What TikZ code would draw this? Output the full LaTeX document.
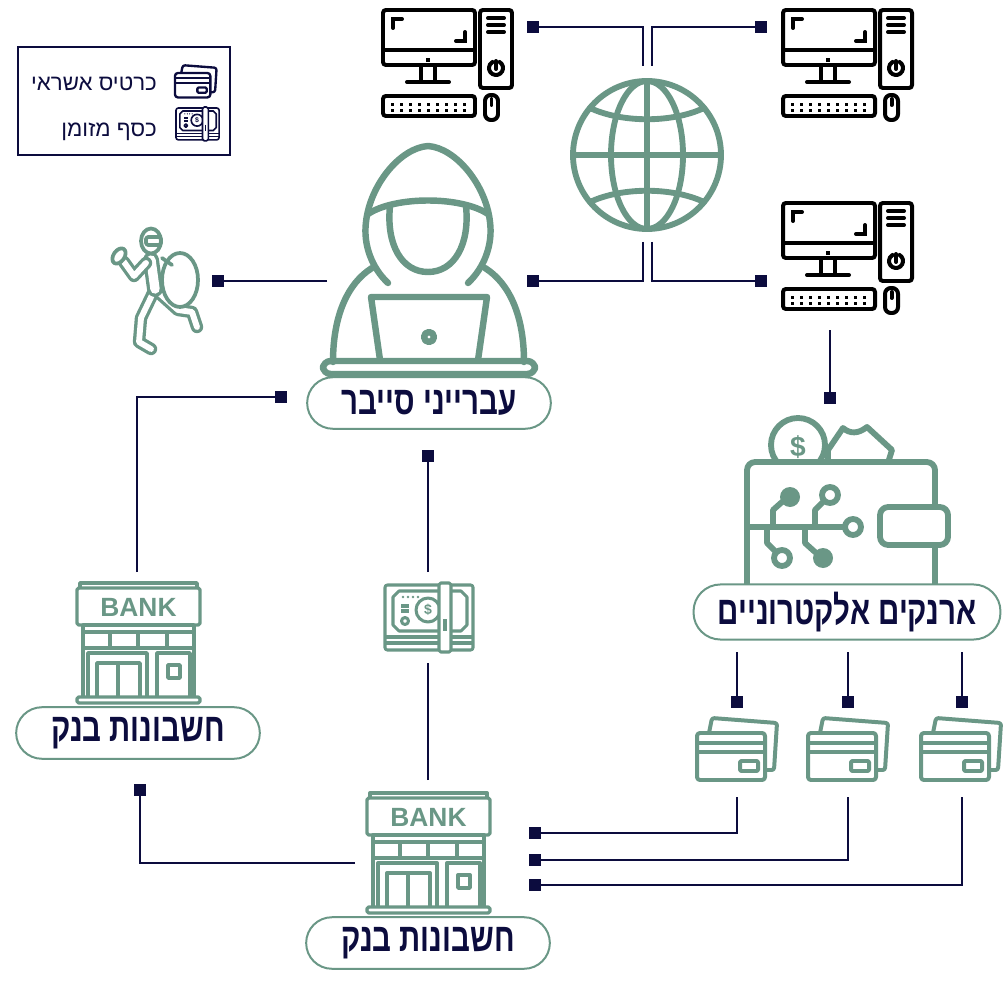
\documentclass[tikz,border=0pt]{standalone}
\usepackage{fontspec}
\usetikzlibrary{arrows.meta}
\newfontfamily\hebfont[Script=Hebrew]{Liberation Sans}
\newfontfamily\hebtag[Script=Hebrew, FakeStretch=0.74]{Liberation Sans}
\newfontfamily\latfont{Liberation Sans}
\TeXXeTstate=1
\definecolor{navy}{RGB}{12,12,62}
\definecolor{leaf}{RGB}{106,151,134}

\tikzset{
  icon/.style={line width=5pt, line cap=round, line join=round},
  limb/.style={draw=leaf, double=white, double distance=5pt, line width=2.8pt, line cap=round, line join=round},
  link/.style={draw=navy, line width=2.1pt, -{Square[length=10.5pt,width=10.5pt]}},
  tag/.style={draw=leaf, fill=white, line width=1.7pt, rounded corners=22pt,
    minimum width=208pt, minimum height=44pt, text=navy, inner sep=2pt,
    font=\hebtag\bfseries\fontsize{34}{36}\selectfont},
  % desktop pc, origin at top left of the screen
  computer/.pic={
    \draw[rounded corners=2.5pt] (0,0) rectangle (92,55);
    \draw (0,40) -- (92,40);
    \fill (43,48) rectangle (47,52);
    \draw (10,18) -- (10,9) -- (19,9);
    \draw (82,22) -- (82,31) -- (73,31);
    \draw (38,55) -- (38,72) (52,55) -- (52,72) (24,72) -- (66,72);
    \draw[rounded corners=2.5pt] (97,0) rectangle (129,78);
    \foreach \b in {8,15,22}
      \draw (105,\b) -- (121,\b);
    \draw (113,58) ++(-60:7) arc[start angle=-60, end angle=240, radius=7];
    \draw (113,51) -- (113,59);
    \draw[rounded corners=2.5pt] (0,86) rectangle (92,106);
    \foreach \i in {0,...,8}
      \foreach \j in {93,99}
        \fill (8+9*\i,\j) rectangle ++(3,3);
    \draw[rounded corners=5pt] (102,85) rectangle (115,110);
    \draw (108.5,89) -- (108.5,95);
  },
  % two stacked cards, origin at top left of the front card
  card/.pic={
    \draw[rounded corners=2pt] (12,0) -- (15,-15) -- (80,-10) -- (77,37) -- (68,37);
    \draw[rounded corners=2.5pt] (0,0) rectangle (68,47);
    \draw (0,10) -- (68,10) (0,19) -- (68,19);
    \draw[rounded corners=1pt] (43,28) rectangle (61,38);
  },
  % bundle of notes
  cash/.pic={
    \draw[rounded corners=2pt] (0,0) rectangle (88,65);
    \draw (0,52) -- (88,52) (0,58) -- (88,58);
    \draw (14,6) -- (76,6) -- (82,12) -- (82,40) -- (76,46) -- (14,46) -- (8,40) -- (8,12) -- cycle;
    \draw (43,25) circle (12);
    \node[transform shape, font=\latfont\bfseries\fontsize{12}{12}\selectfont] at (43,25) {\$};
    \draw (20,36) circle (3.5);
    \foreach \d in {18,23,28,33}
      \fill (\d,12) circle (1.3);
    \draw (16,21) -- (24,21) (16,26) -- (24,26);
    \draw[fill=white, rounded corners=1.5pt] (54,-2) rectangle (66,67);
    \draw (60,34) -- (60,46);
  },
  % bank front, origin at top left of the roof
  bank/.pic={
    \draw (3,5) -- (3,0) -- (120,0) -- (120,5);
    \draw[rounded corners=1.5pt] (0,5) rectangle (123,42);
    \node[transform shape, font=\latfont\bfseries\fontsize{22.5}{22.5}\selectfont] at (61.5,24) {BANK};
    \draw (6,42) rectangle (117,49);
    \draw (6,49) rectangle (117,65);
    \foreach \x in {33,61,90}
      \draw (\x,49) -- (\x,65);
    \draw (6,65) -- (6,114) (117,65) -- (117,114);
    \draw (11,114) -- (11,70) -- (70,70) -- (70,114);
    \draw (20,114) -- (20,80) -- (63,80) -- (63,114) (41,80) -- (41,114);
    \draw (80,114) -- (80,70) -- (113,70) -- (113,114);
    \draw (91,82) rectangle (103,95);
    \draw[rounded corners=1.5pt] (0,114) rectangle (123,120);
  },
}

\begin{document}
\begin{tikzpicture}[x=0.03cm, y=-0.03cm]
\useasboundingbox (0,0) rectangle (1007,989);

% legend
\draw[navy, line width=1.7pt] (18,47) rectangle (230,155);
\node[anchor=east, text=navy, font=\hebfont\fontsize{19}{22}\selectfont] (lcard) at (161,84) {\beginR כרטיס אשראי\endR};
\node[anchor=east, text=navy, font=\hebfont\fontsize{19}{22}\selectfont] (lcash) at (161,132) {\beginR כסף מזומן\endR};
\pic[color=navy, line width=2pt, line join=round, scale=0.52] at (175,73) {card};
\pic[color=navy, line width=1.4pt, line join=round, scale=0.49] at (176,108) {cash};

% computers
\foreach \px/\py in {383/10, 783/10, 783/203}
  \pic[color=black, line width=3.4pt, line cap=round] at (\px,\py) {computer};

% globe
\begin{scope}[leaf, icon]
  \draw (647,155) circle (74);
  \draw (647,155) ellipse [x radius=36, y radius=74];
  \draw (647,81) -- (647,229) (573,155) -- (721,155);
  \draw (590,108) .. controls (622,123) and (672,123) .. (704,108);
  \draw (590,202) .. controls (622,187) and (672,187) .. (704,202);
\end{scope}

% hooded figure at the laptop
\begin{scope}[leaf, icon, line width=5.5pt]
  \draw (388,283) .. controls (372,268) and (363,245) .. (366,222)
        .. controls (370,185) and (400,148) .. (428,146)
        .. controls (456,148) and (486,185) .. (490,222)
        .. controls (493,245) and (484,268) .. (468,283);
  \draw (368,214) .. controls (395,196) and (461,196) .. (488,214);
  \draw (390,206) .. controls (386,245) and (402,272) .. (428,272)
        .. controls (454,272) and (470,245) .. (466,206);
  \draw (333,362) .. controls (333,315) and (348,283) .. (372,268);
  \draw (524,362) .. controls (524,315) and (509,283) .. (485,268);
  \draw (380,360) -- (371,297) -- (487,297) -- (478,360);
  \draw (429,337) circle (5);
  \draw[rounded corners=6.5pt] (323,361) rectangle (535,374);
\end{scope}

% running thief with a bag
\begin{scope}[leaf, icon, line width=3.2pt]
  \draw[limb] (153,293) -- (141,318) -- (139,342) -- (151,349);
  \draw[limb] (158,292) -- (178,310) -- (192,312) -- (197,327);
  \draw[limb, double distance=8pt] (151,260) -- (155,289);
  \draw[limb] (146,263) -- (134,276) -- (124,262);
  \draw[fill=white] (180,280) ellipse [x radius=18, y radius=27];
  \draw (162,258) -- (172,265);
  \draw[fill=white, rotate around={-35:(119,256)}] (119,256) ellipse [x radius=5.5, y radius=8.5];
  \draw[fill=white] (151,241) ellipse [x radius=10, y radius=12.5];
  \draw[rounded corners=2pt] (146,237) rectangle (161,245);
\end{scope}

% e-wallet
\begin{scope}[leaf, icon]
  \begin{scope}
    \clip (740,400) rectangle (960,462);
    \draw (798,445) circle (27);
    \draw (828,466) -- (828,450) -- (843,428) .. controls (850,434) and (858,434) .. (867,427) -- (892,450) -- (887,466);
  \end{scope}
  \node[text=leaf, font=\latfont\bfseries\fontsize{24}{24}\selectfont] at (798,447) {\$};
  \draw[rounded corners=7pt] (747,585) -- (747,462) -- (935,462) -- (935,585);
  \draw[fill=white, rounded corners=7pt] (880,507) rectangle (948,545);
  \draw (747,527) -- (845,527);
  \draw (853,527) circle (8);
  \draw (773,527) -- (773,510) -- (782,502);
  \fill (790,497) circle (10);
  \draw (815,527) -- (815,510) -- (823,502);
  \draw (830,495) circle (8);
  \draw (767,527) -- (767,543) -- (776,552);
  \draw (782,558) circle (8);
  \draw (805,527) -- (805,543) -- (815,552);
  \fill (823,558) circle (10);
\end{scope}

% cards, cash and banks
\foreach \cx in {697, 808, 921}
  \pic[color=leaf, line width=3.4pt, line join=round] at (\cx,733) {card};
\pic[color=leaf, line width=2.6pt, line join=round] at (385,585) {cash};
\pic[color=leaf, line width=2.9pt, line join=round] at (77,583) {bank};
\pic[color=leaf, line width=2.9pt, line join=round] at (367,793) {bank};

% labels
\node[tag] (crooks) at (429,403) {\beginR עברייני סייבר\endR};
\node[tag] (accA) at (138,733) {\beginR חשבונות בנק\endR};
\node[tag] (accB) at (428,943) {\beginR חשבונות בנק\endR};
\node[tag, minimum width=262pt, minimum height=47pt, rounded corners=23pt] (wallets) at (847,612) {\beginR ארנקים אלקטרוניים\endR};

% connector ends
\coordinate (net-n1) at (643,66);
\coordinate (net-n2) at (652,66);
\coordinate (net-s1) at (643,242);
\coordinate (net-s2) at (652,242);
\coordinate (pc1-e) at (527,27);
\coordinate (pc2-w) at (767,27);
\coordinate (crook-ne) at (527,281);
\coordinate (pc3-w) at (767,281);
\coordinate (crook-w) at (327,281);
\coordinate (thief-e) at (212,281);
\coordinate (accA-n) at (137,572);
\coordinate (crooks-w) at (287,397);
\coordinate (cash-n) at (428,572);
\coordinate (crooks-s) at (428,450);
\coordinate (cash-s) at (428,663);
\coordinate (accB-n) at (428,780);
\coordinate (accB-w) at (355,863);
\coordinate (accA-s) at (140,784);
\coordinate (pc3-s) at (830,330);
\coordinate (wallet-n) at (830,404);

\draw[link] (net-n1) |- (pc1-e);
\draw[link] (net-n2) |- (pc2-w);
\draw[link] (net-s1) |- (crook-ne);
\draw[link] (net-s2) |- (pc3-w);
\draw[link] (crook-w) -- (thief-e);
\draw[link] (accA-n) |- (crooks-w);
\draw[link] (cash-n) -- (crooks-s);
\draw[navy, line width=2.1pt] (accB-n) -- (cash-s);
\draw[link] (accB-w) -| (accA-s);
\draw[link] (pc3-s) -- (wallet-n);

\foreach \x/\y [count=\k] in {737/833, 848/860, 962/885} {
  \coordinate (wallets-s\k) at (\x,652);
  \coordinate (card\k-n) at (\x,708);
  \coordinate (card\k-s) at (\x,797);
  \coordinate (accB-e\k) at (529,\y);
  \draw[link] (wallets-s\k) -- (card\k-n);
  \draw[link] (card\k-s) |- (accB-e\k);
}
\end{tikzpicture}
\end{document}
